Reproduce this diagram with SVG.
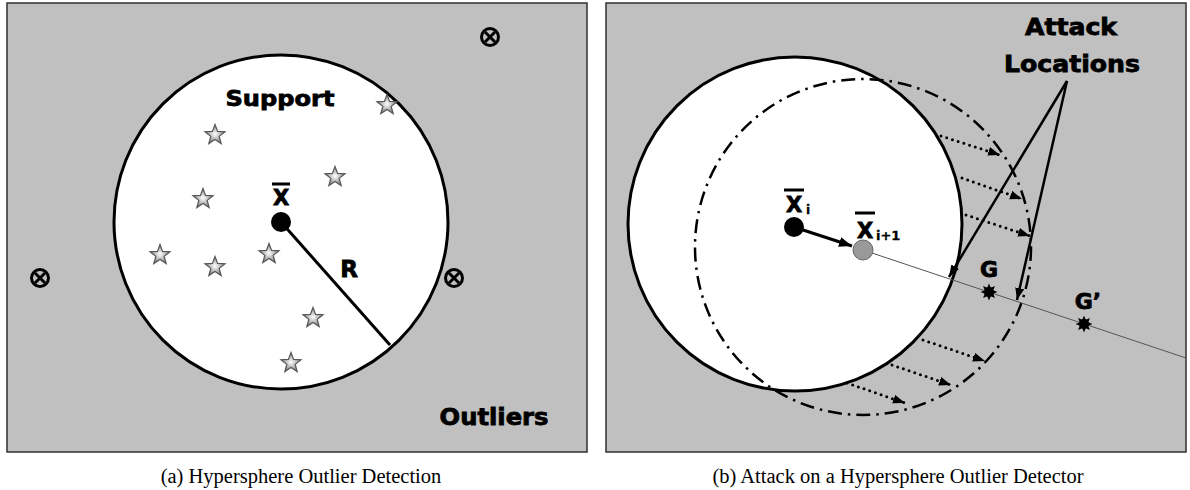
<svg xmlns="http://www.w3.org/2000/svg" width="1190" height="490" viewBox="0 0 1190 490">
<defs>
<style>
.panel{fill:#c0c0c0;stroke:#303030;stroke-width:1.5}
.sphere{fill:#fff;stroke:#000;stroke-width:3}
.lbl{font-family:"DejaVu Sans","Liberation Sans",sans-serif;font-weight:bold;fill:#000;stroke:#000;stroke-width:0.8}
.sub{font-family:"DejaVu Sans","Liberation Sans",sans-serif;font-weight:bold;fill:#000;stroke:#000;stroke-width:0.3}
.cap{font-family:"Liberation Serif","Times New Roman",serif;font-size:20.5px;fill:#000}
.bar{stroke:#000;stroke-width:3}
.dotted{stroke:#000;stroke-width:3;stroke-linecap:round;stroke-dasharray:0 6;fill:none}
.pointer{stroke:#000;stroke-width:2.5;fill:none}
.otl{fill:none;stroke:#000;stroke-width:3}
</style>
<radialGradient id="sg" cx="0.5" cy="0.5" r="0.5">
<stop offset="0" stop-color="#ffffff"/>
<stop offset="1" stop-color="#808080"/>
</radialGradient>
<path id="star" d="M0,-10.5 L2.6,-3.6 L10,-3.25 L4.2,1.37 L6.17,8.5 L0,4.4 L-6.17,8.5 L-4.2,1.37 L-10,-3.25 L-2.6,-3.6 Z" fill="url(#sg)" stroke="#555" stroke-width="1.2" stroke-linejoin="miter"/>
<g id="burst">
<polygon points="8.5,0 4.16,1.72 6.01,6.01 1.72,4.16 0,8.5 -1.72,4.16 -6.01,6.01 -4.16,1.72 -8.5,0 -4.16,-1.72 -6.01,-6.01 -1.72,-4.16 0,-8.5 1.72,-4.16 6.01,-6.01 4.16,-1.72" fill="#000"/>
<circle r="5" fill="#000"/>
</g>
<g id="otimes">
<circle r="8.5" class="otl"/>
<line x1="-5" y1="-5" x2="5" y2="5" stroke="#000" stroke-width="3"/>
<line x1="-5" y1="5" x2="5" y2="-5" stroke="#000" stroke-width="3"/>
</g>
<marker id="ah" markerUnits="userSpaceOnUse" markerWidth="14" markerHeight="12" refX="13" refY="5" orient="auto">
<path d="M0,0 L13,5 L0,10 Z" fill="#000"/>
</marker>
<marker id="ah2" markerUnits="userSpaceOnUse" markerWidth="14" markerHeight="12" refX="12" refY="4.5" orient="auto">
<path d="M0,0 L12,4.5 L0,9 Z" fill="#000"/>
</marker>
</defs>

<!-- Panel a -->
<g id="panel-a">
<rect class="panel" x="7" y="3" width="580" height="449"/>
</g>
<g id="support-sphere">
<circle class="sphere" cx="281" cy="222" r="167"/>
</g>
<g id="connectors-a">
<line x1="281" y1="222" x2="390" y2="345" stroke="#000" stroke-width="3"/>
</g>
<g id="center-a">
<circle cx="281" cy="222" r="10" fill="#000"/>
<text class="lbl" x="281" y="205" font-size="21" text-anchor="middle">X</text>
<line class="bar" x1="272" y1="184" x2="290" y2="184"/>
</g>
<g id="support-points">
<use href="#star" x="215" y="135"/>
<use href="#star" x="387" y="105"/>
<use href="#star" x="335" y="177"/>
<use href="#star" x="203" y="199"/>
<use href="#star" x="160" y="255"/>
<use href="#star" x="215" y="267"/>
<use href="#star" x="269" y="254"/>
<use href="#star" x="313" y="318"/>
<use href="#star" x="291" y="363"/>
</g>
<g id="outlier-points">
<use href="#otimes" x="490" y="37"/>
<use href="#otimes" x="40" y="278"/>
<use href="#otimes" x="454" y="278"/>
</g>
<g id="labels-a">
<text class="lbl" x="280" y="106" font-size="22" text-anchor="middle" textLength="109" lengthAdjust="spacingAndGlyphs">Support</text>
<text class="lbl" x="349" y="277" font-size="23" text-anchor="middle">R</text>
<text class="lbl" x="494" y="425" font-size="23" text-anchor="middle" textLength="109" lengthAdjust="spacingAndGlyphs">Outliers</text>
</g>

<!-- Panel b -->
<g id="panel-b">
<rect class="panel" x="606" y="3" width="580" height="449"/>
</g>
<g id="sphere-i">
<circle class="sphere" cx="795" cy="224" r="167"/>
</g>
<g id="sphere-i1">
<circle cx="863" cy="247" r="168" fill="none" stroke="#000" stroke-width="2.5" stroke-dasharray="14 6 2.5 6"/>
</g>
<g id="connectors-b">
<line x1="863" y1="250" x2="1186" y2="358" stroke="#555" stroke-width="1"/>
<line x1="797" y1="228" x2="852" y2="246" stroke="#000" stroke-width="3" marker-end="url(#ah)"/>
<line class="dotted" x1="941" y1="136" x2="1000" y2="155" marker-end="url(#ah2)"/>
<line class="dotted" x1="962" y1="178" x2="1022" y2="199" marker-end="url(#ah2)"/>
<line class="dotted" x1="966" y1="215" x2="1030" y2="236" marker-end="url(#ah2)"/>
<line class="dotted" x1="923" y1="340" x2="985" y2="361" marker-end="url(#ah2)"/>
<line class="dotted" x1="892" y1="365" x2="951" y2="385" marker-end="url(#ah2)"/>
<line class="dotted" x1="847" y1="383" x2="905" y2="403" marker-end="url(#ah2)"/>
<line class="pointer" x1="1067" y1="81" x2="949" y2="277" marker-end="url(#ah2)"/>
<line class="pointer" x1="1067" y1="81" x2="1017" y2="300" marker-end="url(#ah2)"/>
</g>
<g id="center-i">
<circle cx="794" cy="227" r="10" fill="#000"/>
<text class="lbl" x="794" y="212" font-size="21" text-anchor="middle">X</text>
<line class="bar" x1="784" y1="190" x2="804" y2="190"/>
<text class="sub" x="806" y="214" font-size="12">i</text>
</g>
<g id="center-i1">
<circle cx="863" cy="250" r="10" fill="#999" stroke="#666" stroke-width="1"/>
<text class="lbl" x="865" y="238" font-size="21" text-anchor="middle">X</text>
<line class="bar" x1="855" y1="213" x2="875" y2="213"/>
<text class="sub" x="876" y="240" font-size="13">i+1</text>
</g>
<g id="point-G">
<use href="#burst" x="989" y="292"/>
<text class="lbl" x="989" y="277" font-size="22" text-anchor="middle">G</text>
</g>
<g id="point-G2">
<use href="#burst" x="1084" y="324"/>
<text class="lbl" x="1088" y="309" font-size="22" text-anchor="middle">G’</text>
</g>
<g id="attack-label">
<text class="lbl" x="1071" y="35" font-size="23" text-anchor="middle" textLength="92" lengthAdjust="spacingAndGlyphs">Attack</text>
<text class="lbl" x="1072" y="72" font-size="23" text-anchor="middle" textLength="136" lengthAdjust="spacingAndGlyphs">Locations</text>
</g>

<!-- Captions -->
<text class="cap" x="301" y="483" text-anchor="middle">(a) Hypersphere Outlier Detection</text>
<text class="cap" x="898" y="483" text-anchor="middle">(b) Attack on a Hypersphere Outlier Detector</text>
</svg>
